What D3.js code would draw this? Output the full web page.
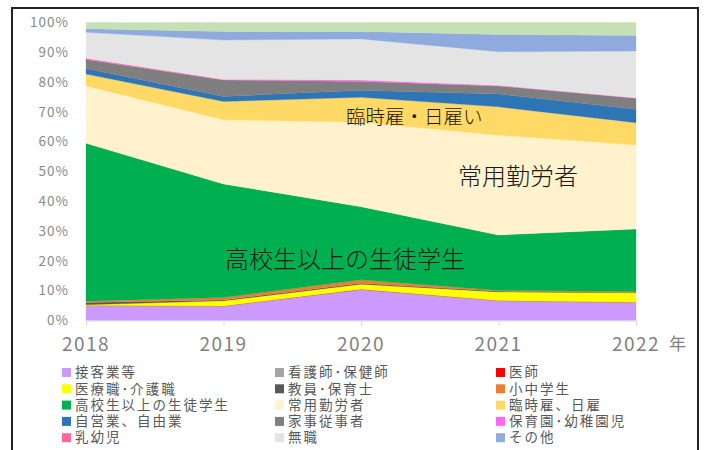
<!DOCTYPE html>
<html lang="ja">
<head>
<meta charset="utf-8">
<script src="https://cdn.jsdelivr.net/npm/d3@7"></script>
<style>
  body { margin: 0; background: #fff; }
  svg { display: block; font-family: "Noto Sans CJK JP", "Noto Sans", sans-serif; }
  .leg text { font-family: "DejaVu Sans", "Noto Sans CJK JP", sans-serif; }
</style>
</head>
<body>
<script>
var w = 710, h = 450;

// years on the x axis
var years = ["2018", "2019", "2020", "2021", "2022"];
var yTicks = [0, 0.1, 0.2, 0.3, 0.4, 0.5, 0.6, 0.7, 0.8, 0.9, 1];

// shares (%) per year, bottom to top of the stack
var sekkyaku   = [4.9, 4.8, 10.3, 6.6, 6.0];   // 接客業等
var kango      = [0.1, 0.1, 0.1, 0.1, 0.1];    // 看護師・保健師
var ishi       = [0.0, 0.0, 0.1, 0.0, 0.0];    // 医師
var iryo       = [0.3, 1.7, 1.7, 2.9, 3.2];    // 医療職・介護職
var kyoin      = [0.7, 0.3, 0.3, 0.2, 0.1];    // 教員・保育士
var shochu     = [0.5, 0.8, 1.2, 0.3, 0.3];    // 小中学生
var koko       = [53.0, 38.1, 24.5, 18.6, 21.0]; // 高校生以上の生徒学生
var joyo       = [19.2, 21.6, 28.3, 33.5, 28.2]; // 常用勤労者
var rinji      = [4.0, 6.1, 8.4, 9.5, 7.5];    // 臨時雇、日雇
var jiei       = [1.9, 1.7, 2.4, 4.3, 4.5];    // 自営業、自由業
var kaji       = [3.0, 5.5, 2.9, 2.7, 3.7];    // 家事従事者
var hoikuen    = [0.1, 0.1, 0.4, 0.2, 0.1];    // 保育園・幼稚園児
var nyuyoji    = [0.3, 0.1, 0.1, 0.0, 0.0];    // 乳幼児
var mushoku    = [8.7, 13.2, 13.8, 11.3, 15.7]; // 無職
var sonota     = [1.2, 2.9, 2.5, 5.8, 5.2];    // その他
var fumei      = [2.1, 3.0, 3.0, 4.0, 4.4];    // 不明 (top band, legend cut off)

var names = ["接客業等", "看護師･保健師", "医師", "医療職･介護職", "教員･保育士", "小中学生",
  "高校生以上の生徒学生", "常用勤労者", "臨時雇、日雇", "自営業、自由業", "家事従事者",
  "保育園･幼稚園児", "乳幼児", "無職", "その他", "不明"];
var values = [sekkyaku, kango, ishi, iryo, kyoin, shochu, koko, joyo, rinji, jiei, kaji,
  hoikuen, nyuyoji, mushoku, sonota, fumei];
var colors = ["#cc99ff", "#a5a5a5", "#ff0000", "#ffff00", "#595959", "#ed7d31",
  "#00b050", "#fff2cc", "#ffd966", "#2e75b6", "#7f7f7f",
  "#ff66ff", "#ff6699", "#e4e4e4", "#8faadc", "#c5e0b4"];

var rows = years.map(function(yr, i) {
  var r = { year: yr };
  names.forEach(function(n, k) { r[n] = values[k][i]; });
  return r;
});

var svg = d3.select("body").append("svg")
  .attr("width", w)
  .attr("height", h);

svg.append("rect").attr("width", w).attr("height", h).style("fill", "#fff");

// frame
svg.append("rect")
  .attr("x", 12).attr("y", 8)
  .attr("width", 686).attr("height", 470)
  .style("fill", "none")
  .style("stroke", "#222")
  .style("stroke-width", 2);

var x = d3.scalePoint().domain(years).range([86, 636]);
var y = d3.scaleLinear().domain([0, 1]).range([320.5, 22.5]);

var stack = d3.stack().keys(names).offset(d3.stackOffsetExpand);
var layers = stack(rows);

var area = d3.area()
  .x(function(d) { return x(d.data.year); })
  .y0(function(d) { return y(d[0]); })
  .y1(function(d) { return y(d[1]); });

svg.append("g").selectAll("path")
  .data(layers)
  .enter()
  .append("path")
  .attr("d", area)
  .style("fill", function(d, i) { return colors[i]; })
  .style("stroke", function(d, i) { return colors[i]; })
  .style("stroke-width", 0.3);

// y axis labels
svg.append("g").selectAll("text")
  .data(yTicks)
  .enter()
  .append("text")
  .attr("x", 69)
  .attr("y", function(d) { return y(d); })
  .attr("dy", "0.35em")
  .attr("text-anchor", "end")
  .style("font-size", "13.5px")
  .style("letter-spacing", "1px")
  .style("fill", "#8a8a8a")
  .text(function(d) { return Math.round(d * 100) + "%"; });

// x axis line and ticks
var xAxis = d3.axisBottom(x).tickSize(5).tickFormat("");
var gx = svg.append("g").attr("transform", "translate(0," + y(0) + ")").call(xAxis);
gx.select(".domain").style("stroke", "#d9d9d9");
gx.selectAll(".tick line").style("stroke", "#d9d9d9");

svg.append("g").selectAll("text")
  .data(years)
  .enter()
  .append("text")
  .attr("x", function(d) { return x(d); })
  .attr("y", 344)
  .attr("dy", "0.35em")
  .attr("text-anchor", "middle")
  .style("font-size", "19px")
  .style("letter-spacing", "1.4px")
  .style("fill", "#7f7f7f")
  .text(function(d) { return d; });

svg.append("text")
  .attr("x", 669).attr("y", 344).attr("dy", "0.35em")
  .style("font-size", "17px")
  .style("fill", "#7f7f7f")
  .text("年");

// annotations
var notes = [
  { t: "臨時雇・日雇い", x: 346, y: 117, s: 19.5 },
  { t: "常用勤労者", x: 458, y: 177, s: 24 },
  { t: "高校生以上の生徒学生", x: 225, y: 260, s: 24 }
];
svg.append("g").selectAll("text")
  .data(notes)
  .enter()
  .append("text")
  .attr("x", function(d) { return d.x; })
  .attr("y", function(d) { return d.y; })
  .attr("dy", "0.35em")
  .style("font-size", function(d) { return d.s + "px"; })
  .style("font-weight", 300)
  .style("fill", "#1a1a1a")
  .text(function(d) { return d.t; });

// legend, 3 columns, row-major (last row cut off by the image edge)
var legCols = [62, 275, 496];
var legY0 = 372.5, legDy = 16.3;
var leg = svg.append("g").attr("class", "leg").selectAll("g")
  .data(names.slice(0, 15))
  .enter()
  .append("g")
  .attr("transform", function(d, i) {
    return "translate(" + legCols[i % 3] + "," + (legY0 + Math.floor(i / 3) * legDy) + ")";
  });
leg.append("rect")
  .attr("x", 0).attr("y", -4.5)
  .attr("width", 9).attr("height", 9)
  .style("fill", function(d, i) { return colors[i]; });
leg.append("text")
  .attr("x", 13)
  .attr("dy", "0.35em")
  .style("font-size", "13.5px")
  .style("letter-spacing", "2px")
  .style("fill", "#595959")
  .text(function(d) { return d; });
</script>
</body>
</html>
